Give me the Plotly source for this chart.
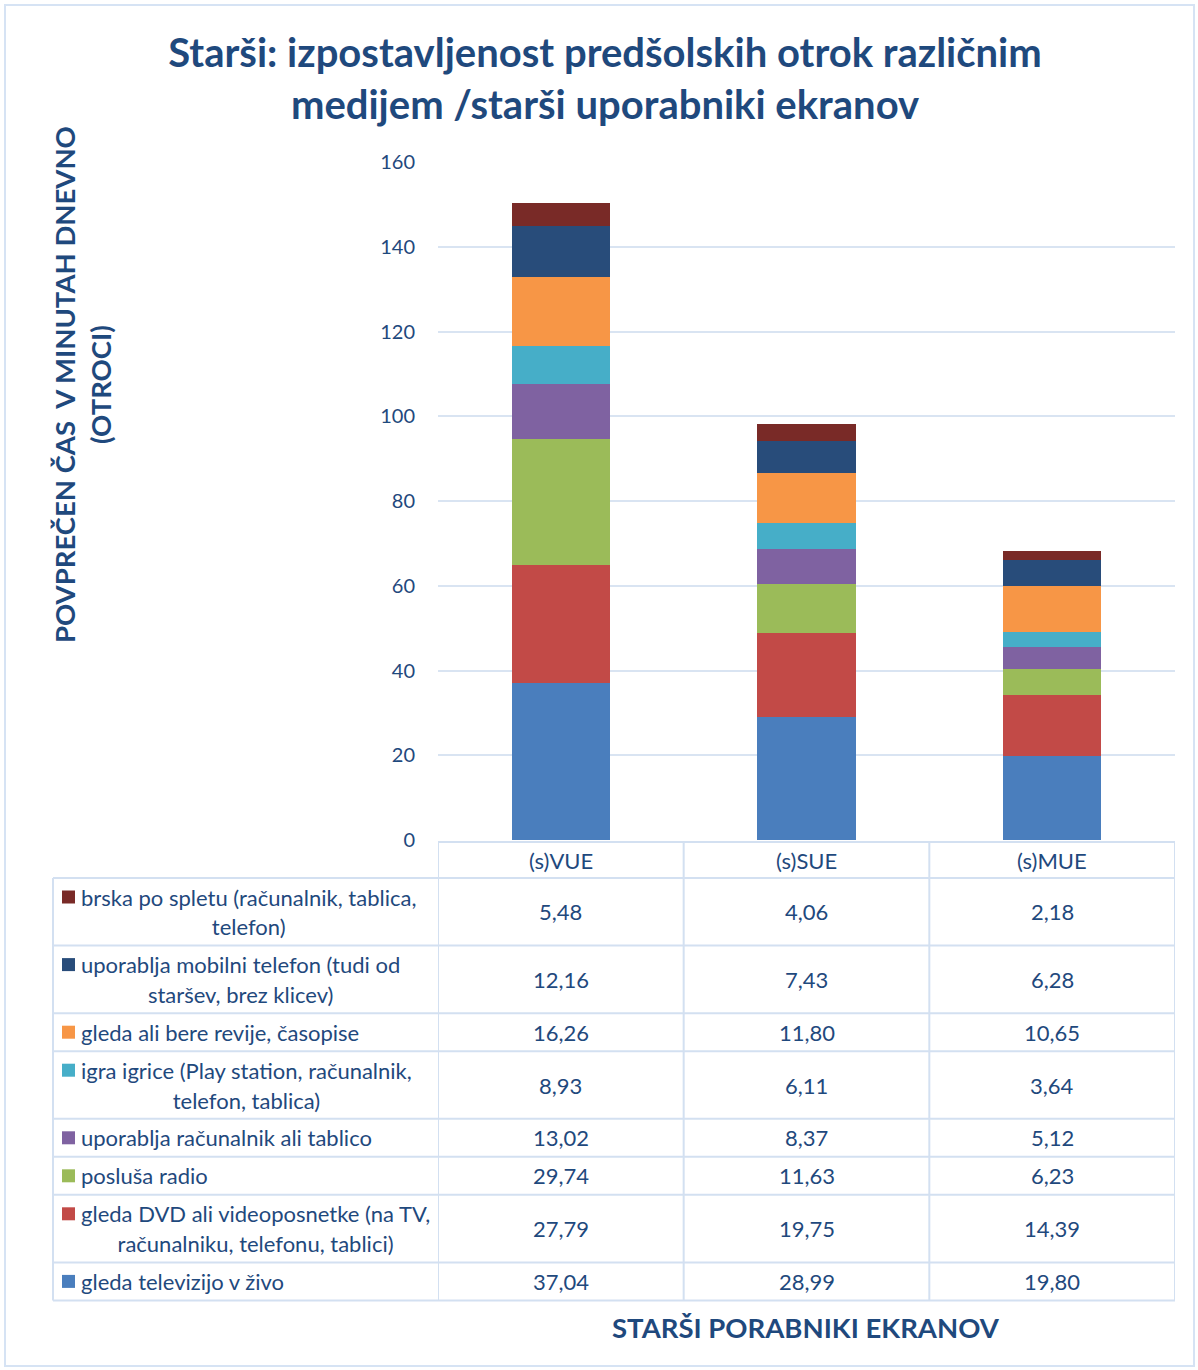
import plotly.graph_objects as go

# ---------------- data ----------------
categories = ["(s)VUE", "(s)SUE", "(s)MUE"]

# bottom-to-top stacking order
series_names = [
    "gleda televizijo v živo",
    "gleda DVD ali videoposnetke (na TV, računalniku, telefonu, tablici)",
    "posluša radio",
    "uporablja računalnik ali tablico",
    "igra igrice (Play station, računalnik, telefon, tablica)",
    "gleda ali bere revije, časopise",
    "uporablja mobilni telefon (tudi od staršev, brez klicev)",
    "brska po spletu (računalnik, tablica, telefon)",
]
# label lines as wrapped in the data table
label_lines = [
    ["gleda televizijo v živo"],
    ["gleda DVD ali videoposnetke (na TV,", "računalniku, telefonu, tablici)"],
    ["posluša radio"],
    ["uporablja računalnik ali tablico"],
    ["igra igrice (Play station, računalnik,", "telefon, tablica)"],
    ["gleda ali bere revije, časopise"],
    ["uporablja mobilni telefon (tudi od", "staršev, brez klicev)"],
    ["brska po spletu (računalnik, tablica,", "telefon)"],
]

tv_live = [37.04, 28.99, 19.80]
dvd_video = [27.79, 19.75, 14.39]
radio = [29.74, 11.63, 6.23]
computer_tablet = [13.02, 8.37, 5.12]
games = [8.93, 6.11, 3.64]
magazines = [16.26, 11.80, 10.65]
mobile_phone = [12.16, 7.43, 6.28]
web = [5.48, 4.06, 2.18]
series_values = [tv_live, dvd_video, radio, computer_tablet, games,
                 magazines, mobile_phone, web]

y_ticks = [0, 20, 40, 60, 80, 100, 120, 140, 160]

title_text = "Starši: izpostavljenost predšolskih otrok različnim<br>medijem /starši uporabniki ekranov"
y_title = "POVPREČEN ČAS  V MINUTAH DNEVNO<br>(OTROCI)"
x_title = "STARŠI PORABNIKI EKRANOV"

# ---------------- style ----------------
colors = ["#4A7EBD", "#C24A47", "#9BBB59", "#7F62A1",
          "#46AEC8", "#F79646", "#284C7A", "#792A27"]
TEXT = "#1F497D"
GRID = "#D9E4F2"
TLINE = "#D3E0F1"
FONT = "Lato"
TFS = 22  # table font size

W, H = 1198, 1370
L, R, T, B = 438, 1175, 162, 840   # plot area in pixels


def px(x):
    return (x - L) / (R - L)


def py(y):
    return (B - y) / (B - T)


fig = go.Figure()
for name, vals, col in zip(series_names, series_values, colors):
    fig.add_trace(go.Bar(
        x=list(range(len(categories))), y=vals, name=name,
        marker=dict(color=col, line=dict(width=0)),
        width=0.4, showlegend=False,
    ))

shapes = []
annotations = []

# ----- data table -----
line_h = 29.6
row_base = 38
header_top, header_bot = 842, 878
tab_left = 53

rows = list(range(len(series_names)))[::-1]
row_tops = []
y = header_bot
for i in rows:
    n = len(label_lines[i])
    h = row_base + line_h * (n - 1)
    row_tops.append((i, y, y + h))
    y += h
table_bottom = y

line_style = dict(color=TLINE, width=2)
shapes.append(dict(type="line", xref="paper", yref="paper",
                   x0=px(L), x1=px(R), y0=py(header_top), y1=py(header_top), line=line_style))
for k in range(len(categories) + 1):
    xk = k - 0.5
    shapes.append(dict(type="line", xref="x", yref="paper",
                       x0=xk, x1=xk, y0=py(header_top), y1=py(table_bottom), line=line_style))
shapes.append(dict(type="line", xref="paper", yref="paper",
                   x0=px(tab_left), x1=px(tab_left), y0=py(header_bot), y1=py(table_bottom),
                   line=line_style))
for yy in [header_bot] + [r[2] for r in row_tops]:
    shapes.append(dict(type="line", xref="paper", yref="paper",
                       x0=px(tab_left), x1=px(R), y0=py(yy), y1=py(yy), line=line_style))

tfont = dict(family=FONT, size=TFS, color=TEXT)
plotly_lh = 1.3 * TFS
for k, c in enumerate(categories):
    annotations.append(dict(x=k, xref="x", y=py((header_top + header_bot) / 2), yref="paper",
                            text=c, showarrow=False, font=tfont,
                            xanchor="center", yanchor="middle"))

for i, top, bot in row_tops:
    mid = (top + bot) / 2
    lines = label_lines[i]
    n = len(lines)
    first_line = mid - line_h * (n - 1) / 2
    shapes.append(dict(type="rect", xref="paper", yref="paper",
                       x0=px(62), x1=px(75), y0=py(first_line - 6.5), y1=py(first_line + 6.5),
                       fillcolor=colors[i], line=dict(width=0)))
    # first line, left aligned
    annotations.append(dict(x=px(79), xref="paper", y=py(first_line), yref="paper",
                            text=lines[0], showarrow=False, font=tfont,
                            xanchor="left", yanchor="middle"))
    # following lines, centred within the width of the first line
    for j in range(1, n):
        hidden = "<span style='color:rgba(0,0,0,0)'>" + lines[0] + "</span>"
        txt = hidden + "<br>" + lines[j]
        target = first_line + j * line_h
        annotations.append(dict(x=px(79), xref="paper", y=py(target - plotly_lh / 2), yref="paper",
                                text=txt, showarrow=False, font=tfont, align="center",
                                xanchor="left", yanchor="middle"))
    for k in range(len(categories)):
        annotations.append(dict(x=k, xref="x", y=py(mid), yref="paper",
                                text=f"{series_values[i][k]:.2f}".replace(".", ","),
                                showarrow=False, font=tfont,
                                xanchor="center", yanchor="middle"))

annotations.append(dict(x=px(82), xref="paper", y=py(385), yref="paper",
                        text=y_title, textangle=-90, showarrow=False,
                        font=dict(family=FONT, size=27.5, color=TEXT, weight="bold"),
                        xanchor="center", yanchor="middle", align="center"))
annotations.append(dict(x=px(806), xref="paper", y=py(1327), yref="paper",
                        text=x_title, showarrow=False,
                        font=dict(family=FONT, size=27.5, color=TEXT, weight="bold"),
                        xanchor="center", yanchor="middle"))

shapes.append(dict(type="rect", xref="paper", yref="paper",
                   x0=px(5), x1=px(1194), y0=py(5), y1=py(1366),
                   line=dict(color="#D6E3F4", width=2), fillcolor="rgba(0,0,0,0)", layer="below"))

fig.update_layout(
    width=W, height=H,
    margin=dict(l=L, r=W - R, t=T, b=H - B, pad=0),
    paper_bgcolor="white", plot_bgcolor="white",
    barmode="stack", bargap=0.6,
    title=dict(text=title_text, x=605 / W, xref="container", xanchor="center",
               y=1 - 67 / H, yref="container", yanchor="middle",
               font=dict(family=FONT, size=40, color=TEXT, weight="bold")),
    xaxis=dict(range=[-0.5, len(categories) - 0.5], showticklabels=False,
               showgrid=False, zeroline=False, showline=False, fixedrange=True),
    yaxis=dict(range=[0, 160], tickvals=y_ticks, showgrid=True, gridcolor=GRID, gridwidth=2,
               zeroline=False, showline=False, ticks="",
               tickfont=dict(family=FONT, size=20, color=TEXT), ticklabelstandoff=22),
    shapes=shapes,
    annotations=annotations,
    font=dict(family=FONT),
)

fig.write_html("out.html", config={"displayModeBar": False},
               post_script="document.body.style.margin='0';")
